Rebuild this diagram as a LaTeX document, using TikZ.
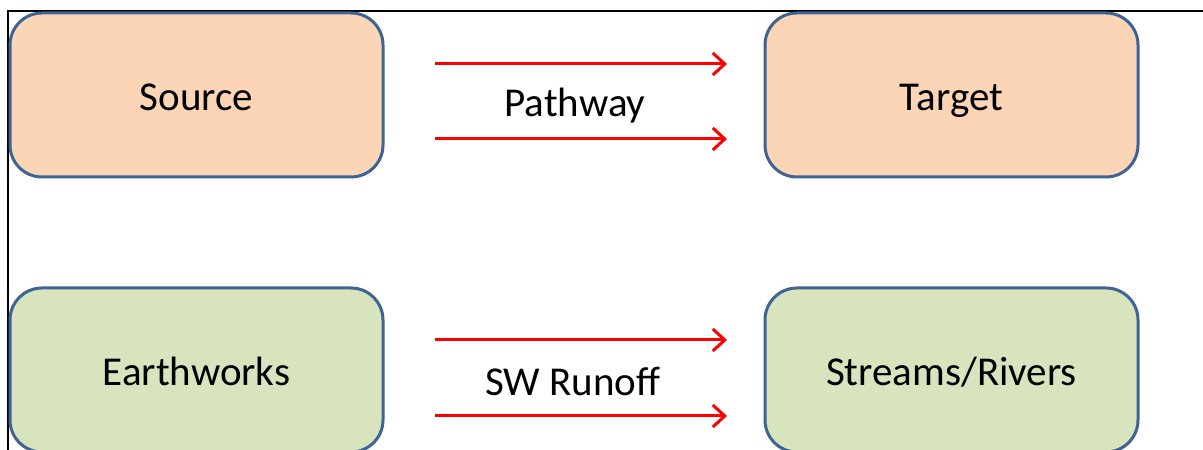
\documentclass[tikz,border=0pt]{standalone}
\usepackage{fontspec}
\setmainfont{Carlito}
\usetikzlibrary{arrows.meta}
\definecolor{peach}{HTML}{FBD5B5}
\definecolor{sage}{HTML}{D7E4BD}
\definecolor{edgeblue}{HTML}{3F6493}
\tikzset{
  boxbase/.style={draw=edgeblue, line width=3pt, rounded corners=32pt,
    minimum width=373pt, minimum height=164pt, inner sep=0pt, outer sep=0pt,
    text height=31pt, text depth=0pt,
    font=\fontsize{41}{49}\selectfont},
  peachbox/.style={boxbase, fill=peach},
  sagebox/.style={boxbase, fill=sage},
  redarrow/.style={draw=red, line width=3pt,
    -{Straight Barb[length=12pt,width=22pt]}},
  lbl/.style={anchor=base, font=\fontsize{41}{49}\selectfont, inner sep=0pt},
  frameline/.style={draw=black, line width=2pt}
}
\begin{document}
\begin{tikzpicture}[x=1pt,y=1pt]
\useasboundingbox (0,0) rectangle (1203,450);
\clip (0,0) rectangle (1203,450);
\fill[white] (0,0) rectangle (1203,450);
% frame
\coordinate (ftr) at (1203,439);
\coordinate (ftl) at (8,439);
\coordinate (fbl) at (8,0);
\draw[frameline] (ftr) -- (ftl) -- (fbl);
% nodes
\node[peachbox] (src) at (196.5,355) {Source};
\node[peachbox] (tgt) at (951.5,355) {Target};
\node[sagebox] (ew) at (196.5,80) {Earthworks};
\node[sagebox] (sr) at (951.5,80) {Streams/Rivers};
% arrows
\draw[redarrow, shorten <=52pt, shorten >=38pt] ([yshift=31pt]src.east) -- ([yshift=31pt]tgt.west);
\draw[redarrow, shorten <=52pt, shorten >=38pt] ([yshift=-44pt]src.east) -- ([yshift=-44pt]tgt.west);
\draw[redarrow, shorten <=52pt, shorten >=38pt] ([yshift=30pt]ew.east) -- ([yshift=30pt]sr.west);
\draw[redarrow, shorten <=52pt, shorten >=38pt] ([yshift=-46pt]ew.east) -- ([yshift=-46pt]sr.west);
% labels
\node[lbl] (pw) at (575,333) {Pathway};
\node[lbl] (sw) at (573,54) {SW Runoff};
\end{tikzpicture}
\end{document}
